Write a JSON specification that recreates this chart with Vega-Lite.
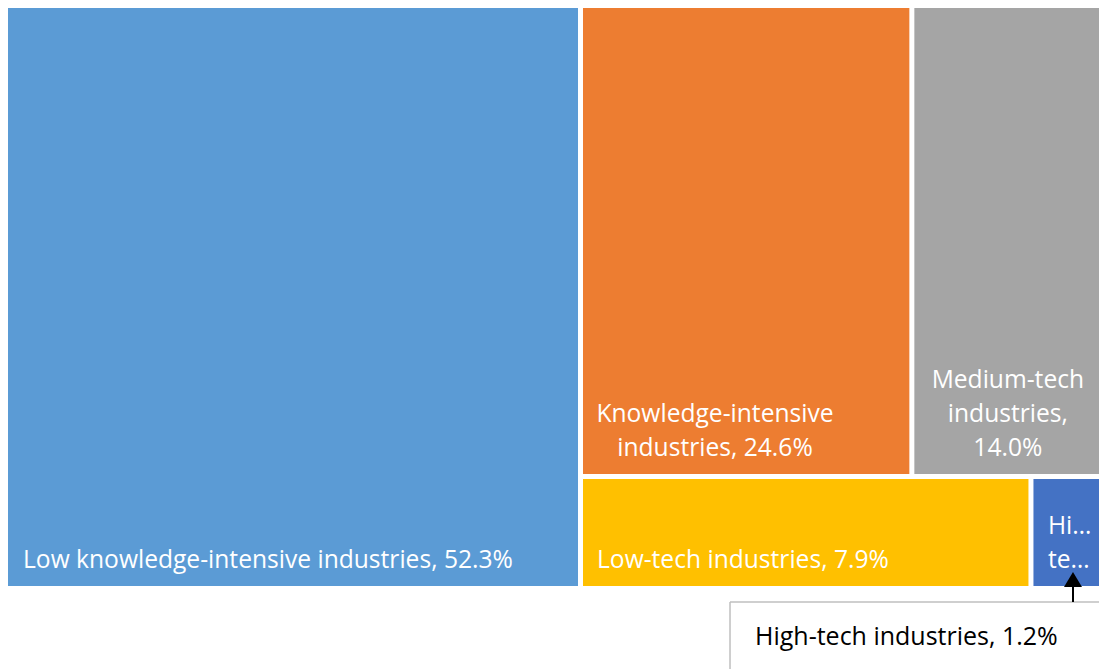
{
  "$schema": "https://vega.github.io/schema/vega-lite/v6.json",
  "padding": {"left": 8, "top": 5, "right": 0, "bottom": 0},
  "background": "white",
  "config": {"view": {"stroke": null}},
  "spacing": 5,
  "bounds": "flush",
  "datasets": {
    "sectors": [
      {"name": "Low knowledge-intensive industries", "value": 52.3, "block": "A", "label": "Low knowledge-intensive industries, 52.3%"},
      {"name": "Knowledge-intensive industries", "value": 24.6, "block": "B1", "label": "Knowledge-intensive\nindustries, 24.6%"},
      {"name": "Medium-tech industries", "value": 14.0, "block": "B1", "label": "Medium-tech\nindustries,\n14.0%"},
      {"name": "Low-tech industries", "value": 7.9, "block": "B2", "label": "Low-tech industries, 7.9%"},
      {"name": "High-tech industries", "value": 1.2, "block": "B2", "label": "High-\ntech industries, 1.2%", "callout": "High-tech industries, 1.2%"}
    ]
  },
  "hconcat": [
    {
      "width": 570,
      "height": 578,
      "data": {"name": "sectors"},
      "transform": [
        {"filter": {"field": "block", "equal": "A"}},
        {"stack": "value", "groupby": [], "offset": "normalize", "sort": [{"field": "value", "order": "descending"}], "as": ["x0", "x1"]}
      ],
      "layer": [
        {
          "mark": {"type": "rect"},
          "encoding": {
            "x": {"field": "x0", "type": "quantitative", "scale": {"domain": [0, 1], "nice": false, "zero": false}, "axis": null},
            "x2": {"field": "x1"},
            "color": {"field": "name", "type": "nominal", "legend": null, "scale": {"domain": ["Low knowledge-intensive industries", "Knowledge-intensive industries", "Medium-tech industries", "Low-tech industries", "High-tech industries"], "range": ["#5B9BD5", "#ED7D31", "#A5A5A5", "#FFC000", "#4472C4"]}}
          }
        },
        {
          "mark": {"type": "text", "align": "left", "baseline": "bottom", "dx": 15, "dy": -13, "fill": "white", "font": "Open Sans", "fontSize": 24.6, "lineBreak": "\n", "lineHeight": 34},
          "encoding": {
            "x": {"field": "x0", "type": "quantitative"},
            "y": {"datum": 0, "type": "quantitative", "scale": {"domain": [0, 1], "nice": false}, "axis": null},
            "text": {"field": "label"}
          }
        }
      ]
    },
    {
      "spacing": 5,
      "bounds": "flush",
      "vconcat": [
        {
          "width": 516,
          "height": 466,
          "data": {"name": "sectors"},
          "transform": [
            {"filter": {"field": "block", "equal": "B1"}},
            {"stack": "value", "groupby": [], "offset": "normalize", "sort": [{"field": "value", "order": "descending"}], "as": ["x0", "x1"]}
          ],
          "layer": [
            {
              "mark": {"type": "rect"},
              "encoding": {
                "x": {"field": "x0", "type": "quantitative", "scale": {"domain": [0, 1], "nice": false, "zero": false}, "axis": null},
                "x2": {"field": "x1"},
                "color": {"field": "name", "type": "nominal", "legend": null, "scale": {"domain": ["Low knowledge-intensive industries", "Knowledge-intensive industries", "Medium-tech industries", "Low-tech industries", "High-tech industries"], "range": ["#5B9BD5", "#ED7D31", "#A5A5A5", "#FFC000", "#4472C4"]}}
              }
            },
            {
              "transform": [{"filter": "datum.x0 > 0"}],
              "mark": {"type": "rule", "color": "white", "strokeWidth": 5},
              "encoding": {"x": {"field": "x0", "type": "quantitative"}}
            },
            {
              "transform": [{"filter": {"field": "name", "equal": "Knowledge-intensive industries"}}],
              "mark": {"type": "text", "align": "center", "baseline": "bottom", "dx": 132, "dy": -47, "fill": "white", "font": "Open Sans", "fontSize": 24.6, "lineBreak": "\n", "lineHeight": 34},
              "encoding": {
                "x": {"field": "x0", "type": "quantitative"},
                "y": {"datum": 0, "type": "quantitative", "scale": {"domain": [0, 1], "nice": false}, "axis": null},
                "text": {"field": "label"}
              }
            },
            {
              "transform": [{"filter": {"field": "name", "equal": "Medium-tech industries"}}],
              "mark": {"type": "text", "align": "center", "baseline": "bottom", "dx": 96, "dy": -81, "fill": "white", "font": "Open Sans", "fontSize": 24.6, "lineBreak": "\n", "lineHeight": 34},
              "encoding": {
                "x": {"field": "x0", "type": "quantitative"},
                "y": {"datum": 0, "type": "quantitative"},
                "text": {"field": "label"}
              }
            }
          ]
        },
        {
          "width": 516,
          "height": 107,
          "data": {"name": "sectors"},
          "transform": [
            {"filter": {"field": "block", "equal": "B2"}},
            {"stack": "value", "groupby": [], "offset": "normalize", "sort": [{"field": "value", "order": "descending"}], "as": ["x0", "x1"]}
          ],
          "layer": [
            {
              "mark": {"type": "rect"},
              "encoding": {
                "x": {"field": "x0", "type": "quantitative", "scale": {"domain": [0, 1], "nice": false, "zero": false}, "axis": null},
                "x2": {"field": "x1"},
                "color": {"field": "name", "type": "nominal", "legend": null, "scale": {"domain": ["Low knowledge-intensive industries", "Knowledge-intensive industries", "Medium-tech industries", "Low-tech industries", "High-tech industries"], "range": ["#5B9BD5", "#ED7D31", "#A5A5A5", "#FFC000", "#4472C4"]}}
              }
            },
            {
              "transform": [{"filter": "datum.x0 > 0"}],
              "mark": {"type": "rule", "color": "white", "strokeWidth": 5},
              "encoding": {"x": {"field": "x0", "type": "quantitative"}}
            },
            {
              "transform": [{"filter": {"field": "name", "equal": "Low-tech industries"}}],
              "mark": {"type": "text", "align": "left", "baseline": "bottom", "dx": 14, "dy": -13, "fill": "white", "font": "Open Sans", "fontSize": 24.6, "lineBreak": "\n", "lineHeight": 34},
              "encoding": {
                "x": {"field": "x0", "type": "quantitative"},
                "y": {"datum": 0, "type": "quantitative", "scale": {"domain": [0, 1], "nice": false}, "axis": null},
                "text": {"field": "label"}
              }
            },
            {
              "transform": [{"filter": {"field": "name", "equal": "High-tech industries"}}],
              "mark": {"type": "text", "align": "left", "baseline": "bottom", "dx": 17, "dy": -47, "fill": "white", "font": "Open Sans", "fontSize": 24.6, "lineBreak": "\n", "lineHeight": 34, "limit": 50},
              "encoding": {
                "x": {"field": "x0", "type": "quantitative"},
                "y": {"datum": 0, "type": "quantitative"},
                "text": {"field": "label"}
              }
            },
            {
              "transform": [{"filter": {"field": "name", "equal": "High-tech industries"}}],
              "mark": {"type": "rule", "color": "#BFBFBF", "strokeWidth": 1.5},
              "encoding": {
                "x": {"datum": 0.2849, "type": "quantitative"},
                "x2": {"datum": 1},
                "y": {"datum": -0.1495, "type": "quantitative"}
              }
            },
            {
              "transform": [{"filter": {"field": "name", "equal": "High-tech industries"}}],
              "mark": {"type": "rule", "color": "#BFBFBF", "strokeWidth": 1.5},
              "encoding": {
                "x": {"datum": 0.2849, "type": "quantitative"},
                "y": {"datum": -0.1495, "type": "quantitative"},
                "y2": {"datum": -0.7757}
              }
            },
            {
              "transform": [{"filter": {"field": "name", "equal": "High-tech industries"}}],
              "mark": {"type": "rule", "color": "black", "strokeWidth": 2},
              "encoding": {
                "x": {"datum": 0.9496, "type": "quantitative"},
                "y": {"datum": -0.1495, "type": "quantitative"},
                "y2": {"datum": 0.0}
              }
            },
            {
              "transform": [{"filter": {"field": "name", "equal": "High-tech industries"}}],
              "mark": {"type": "point", "shape": "M-1,0.833L1,0.833L0,-0.833Z", "filled": true, "fill": "black", "opacity": 1, "size": 324, "strokeWidth": 0},
              "encoding": {
                "x": {"datum": 0.9496, "type": "quantitative"},
                "y": {"datum": 0.0607, "type": "quantitative"}
              }
            },
            {
              "transform": [{"filter": {"field": "name", "equal": "High-tech industries"}}],
              "mark": {"type": "text", "align": "left", "baseline": "middle", "fill": "black", "font": "Open Sans", "fontSize": 25},
              "encoding": {
                "x": {"datum": 0.3333, "type": "quantitative"},
                "y": {"datum": -0.4766, "type": "quantitative"},
                "text": {"field": "callout"}
              }
            }
          ]
        }
      ]
    }
  ]
}
